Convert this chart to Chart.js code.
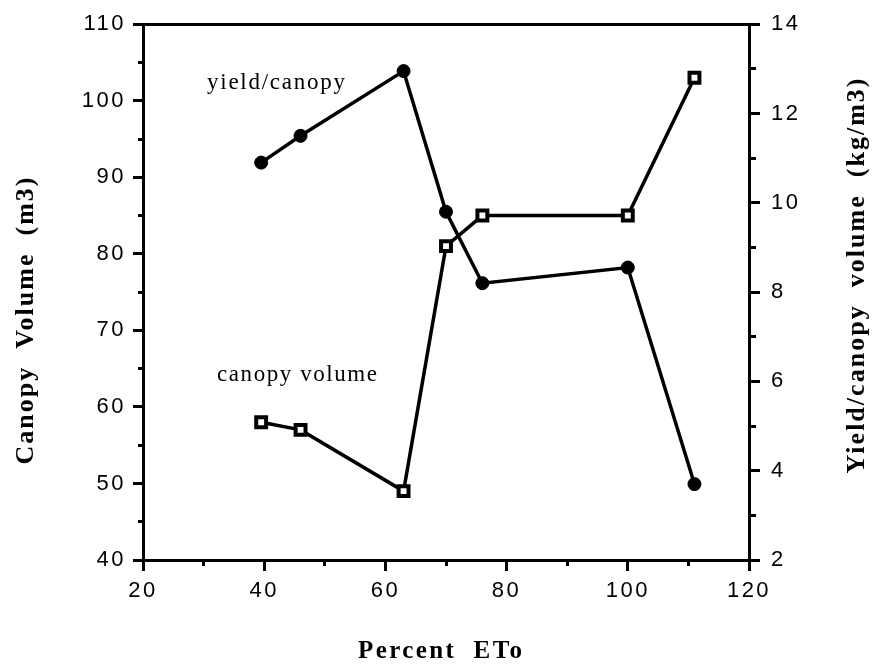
<!DOCTYPE html>
<html>
<head>
<meta charset="utf-8">
<script src="https://cdn.jsdelivr.net/npm/chart.js@4.4.1/dist/chart.umd.min.js"></script>
<style>
html,body{margin:0;padding:0;background:#fff;}
#wrap{width:874px;height:666px;position:relative;}
</style>
</head>
<body>
<div id="wrap"><canvas id="c"></canvas></div>
<script>
// ---- data ----
const percentEto      = [39.5, 46, 63, 70, 76, 100, 111];
const canopyVolume    = [58, 57, 49, 81, 85, 85, 103];     // left axis (m3)
const yieldPerCanopy  = [10.9, 11.5, 12.95, 9.8, 8.2, 8.55, 3.7]; // right axis (kg/m3)

const xTicks      = [20, 40, 60, 80, 100, 120];
const leftTicks   = [40, 50, 60, 70, 80, 90, 100, 110];
const rightTicks  = [2, 4, 6, 8, 10, 12, 14];

const seriesLabels = ['canopy volume', 'yield/canopy'];
const xTitle = 'Percent  ETo';
const leftTitle = 'Canopy  Volume  (m3)';
const rightTitle = 'Yield/canopy  volume  (kg/m3)';

// ---- helpers ----
const tickFont = {family: 'Liberation Sans', size: 22};
const BLACK = '#000';

function majorGrid(len){
  return {drawOnChartArea:false, drawTicks:true, tickLength:len, tickWidth:3, color:BLACK};
}
function emptyLabel(){ return ''; }

function drawSpaced(ctx, text, x, y, font, targetWidth, align){
  ctx.save();
  ctx.font = font;
  ctx.letterSpacing = '0px';
  const w0 = ctx.measureText(text).width;
  let ls = 0;
  if (targetWidth) ls = (targetWidth - w0) / (text.length - 1);
  ctx.letterSpacing = ls + 'px';
  ctx.textAlign = 'left';
  ctx.textBaseline = 'alphabetic';
  const full = w0 + ls * (text.length - 1);
  let sx = x;
  if (align === 'center') sx = x - full / 2;
  ctx.fillText(text, sx, y);
  ctx.restore();
}

const textPlugin = {
  id: 'textPlugin',
  beforeDraw(chart){
    const ctx = chart.ctx;
    ctx.save();
    ctx.fillStyle = '#fff';
    ctx.fillRect(0, 0, chart.width, chart.height);
    ctx.restore();
    ctx.letterSpacing = '2.5px';
  },
  afterDraw(chart){
    const ctx = chart.ctx;
    ctx.letterSpacing = '0px';
    ctx.fillStyle = BLACK;
    // series annotations
    drawSpaced(ctx, seriesLabels[1], 207, 89, '23px "Liberation Serif"', 138, 'left');
    drawSpaced(ctx, seriesLabels[0], 217, 381, '23px "Liberation Serif"', 160, 'left');
    // x title
    drawSpaced(ctx, xTitle, 440, 658, 'bold 25px "Liberation Serif"', 164, 'center');
    // left title
    ctx.save();
    ctx.translate(33, 321);
    ctx.rotate(-Math.PI / 2);
    drawSpaced(ctx, leftTitle, 0, 0, 'bold 26px "Liberation Serif"', 287, 'center');
    ctx.restore();
    // right title
    ctx.save();
    ctx.translate(864, 276);
    ctx.rotate(-Math.PI / 2);
    drawSpaced(ctx, rightTitle, 0, 0, 'bold 26px "Liberation Serif"', 395, 'center');
    ctx.restore();
  }
};

const canopyPts = percentEto.map((x, i) => ({x, y: canopyVolume[i]}));
const yieldPts  = percentEto.map((x, i) => ({x, y: yieldPerCanopy[i]}));

new Chart(document.getElementById('c'), {
  type: 'line',
  data: {
    datasets: [
      {
        label: seriesLabels[0],
        data: canopyPts,
        xAxisID: 'x', yAxisID: 'y',
        borderColor: BLACK, borderWidth: 3.5,
        pointStyle: 'rect', pointRadius: 7,
        pointBackgroundColor: '#fff', pointBorderColor: BLACK, pointBorderWidth: 4,
        tension: 0, fill: false
      },
      {
        label: seriesLabels[1],
        data: yieldPts,
        xAxisID: 'x', yAxisID: 'y2',
        borderColor: BLACK, borderWidth: 3.5,
        pointStyle: 'circle', pointRadius: 6.5,
        pointBackgroundColor: BLACK, pointBorderColor: BLACK, pointBorderWidth: 1,
        tension: 0, fill: false
      }
    ]
  },
  options: {
    responsive: true,
    maintainAspectRatio: false,
    animation: false,
    devicePixelRatio: 1,
    layout: {padding: {left: 0, right: 0, top: 16, bottom: 0}},
    plugins: {legend: {display: false}, tooltip: {enabled: false}},
    scales: {
      x: {
        type: 'linear', position: 'bottom', weight: 1,
        min: xTicks[0], max: xTicks[xTicks.length - 1],
        afterBuildTicks: s => { s.ticks = xTicks.map(v => ({value: v})); },
        ticks: {font: tickFont, color: BLACK, padding: 7, maxRotation: 0, autoSkip: false},
        grid: majorGrid(11),
        border: {display: true, color: BLACK, width: 3},
        afterFit: s => { s.height = 106; }
      },
      xMinor: {
        type: 'linear', position: 'bottom', weight: 0,
        min: xTicks[0], max: xTicks[xTicks.length - 1],
        ticks: {stepSize: 10, callback: emptyLabel, autoSkip: false},
        grid: majorGrid(6),
        border: {display: false},
        afterFit: s => { s.height = 0; }
      },
      xTop: {
        type: 'linear', position: 'top', weight: 0,
        min: xTicks[0], max: xTicks[xTicks.length - 1],
        ticks: {display: false},
        grid: {drawOnChartArea: false, drawTicks: false},
        border: {display: true, color: BLACK, width: 3},
        afterFit: s => { s.height = 0; }
      },
      y: {
        type: 'linear', position: 'left', weight: 1,
        min: leftTicks[0], max: leftTicks[leftTicks.length - 1],
        afterBuildTicks: s => { s.ticks = leftTicks.map(v => ({value: v})); },
        ticks: {font: tickFont, color: BLACK, padding: 7, autoSkip: false},
        grid: majorGrid(10),
        border: {display: true, color: BLACK, width: 3},
        afterFit: s => { s.width = 143; }
      },
      yMinor: {
        type: 'linear', position: 'left', weight: 0,
        min: leftTicks[0], max: leftTicks[leftTicks.length - 1],
        ticks: {stepSize: 5, callback: emptyLabel, autoSkip: false},
        grid: majorGrid(5),
        border: {display: false},
        afterFit: s => { s.width = 0; }
      },
      y2: {
        type: 'linear', position: 'right', weight: 1,
        min: rightTicks[0], max: rightTicks[rightTicks.length - 1],
        afterBuildTicks: s => { s.ticks = rightTicks.map(v => ({value: v})); },
        ticks: {font: tickFont, color: BLACK, padding: 11, autoSkip: false},
        grid: majorGrid(11),
        border: {display: true, color: BLACK, width: 3},
        afterFit: s => { s.width = 125; }
      },
      y2Minor: {
        type: 'linear', position: 'right', weight: 0,
        min: rightTicks[0], max: rightTicks[rightTicks.length - 1],
        ticks: {stepSize: 1, callback: emptyLabel, autoSkip: false},
        grid: majorGrid(7),
        border: {display: false},
        afterFit: s => { s.width = 0; }
      }
    }
  },
  plugins: [textPlugin]
});
</script>
</body>
</html>
